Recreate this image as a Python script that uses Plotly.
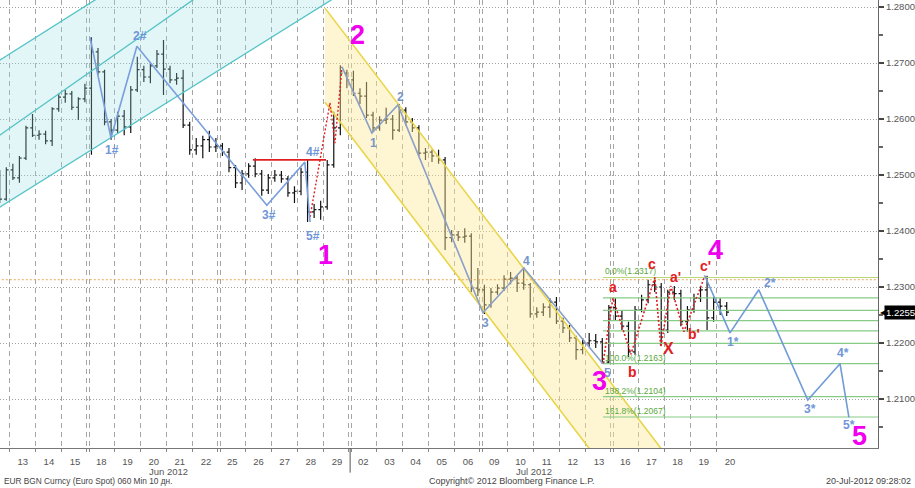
import plotly.graph_objects as go

# ---------------- data ----------------
day_labels = ["12", "13", "14", "15", "18", "19", "20", "21", "22", "25", "26", "27", "28", "29",
              "02", "03", "04", "05", "06", "09", "10", "11", "12", "13", "16", "17", "18", "19", "20"]
friday_idx = [3, 8, 13, 18, 23]
month_labels = ["Jun 2012", "Jul 2012"]
month_label_x = [6.58, 20.5]
month_break = 13.5

bars_per_day = 4          # 6-hour bars
first_slot = 2            # first visible bar = 3rd slot of Jun 12

bar_open = [
    1.2500, 1.2457,
    1.2509, 1.2495, 1.2530, 1.2584,
    1.2571, 1.2573, 1.2561, 1.2618,
    1.2639, 1.2645, 1.2621, 1.2636,
    1.2655, 1.2720, 1.2684, 1.2595,
    1.2580, 1.2605, 1.2586, 1.2652,
    1.2688, 1.2675, 1.2695, 1.2716,
    1.2689, 1.2670, 1.2673, 1.2589,
    1.2545, 1.2552, 1.2563, 1.2550,
    1.2552, 1.2541, 1.2513, 1.2486,
    1.2502, 1.2516, 1.2502, 1.2473,
    1.2495, 1.2500, 1.2493, 1.2468,
    1.2471, 1.2505, 1.2434, 1.2438,
    1.2443, 1.2518, 1.2584, 1.2682,
    1.2670, 1.2646, 1.2641, 1.2607,
    1.2584, 1.2598, 1.2600, 1.2580,
    1.2616, 1.2595, 1.2584, 1.2539,
    1.2541, 1.2534, 1.2527, 1.2388,
    1.2393, 1.2389, 1.2391, 1.2298,
    1.2295, 1.2268, 1.2291, 1.2298,
    1.2314, 1.2316, 1.2307, 1.2304,
    1.2252, 1.2255, 1.2264, 1.2273,
    1.2239, 1.2227, 1.2209, 1.2188,
    1.2200, 1.2204, 1.2202, 1.2166,
    1.2263, 1.2248, 1.2230, 1.2184,
    1.2259, 1.2277, 1.2304, 1.2300,
    1.2223, 1.2291, 1.2288, 1.2238,
    1.2259, 1.2280, 1.2295, 1.2245,
    1.2273, 1.2266,
]
bar_high = [
    1.2509, 1.2514,
    1.2520, 1.2534, 1.2588, 1.2609,
    1.2580, 1.2579, 1.2621, 1.2645,
    1.2652, 1.2650, 1.2639, 1.2663,
    1.2746, 1.2727, 1.2688, 1.2600,
    1.2613, 1.2616, 1.2659, 1.2711,
    1.2695, 1.2700, 1.2723, 1.2741,
    1.2695, 1.2682, 1.2688, 1.2595,
    1.2566, 1.2570, 1.2579, 1.2566,
    1.2557, 1.2548, 1.2518, 1.2509,
    1.2521, 1.2530, 1.2509, 1.2502,
    1.2509, 1.2507, 1.2498, 1.2480,
    1.2513, 1.2527, 1.2448, 1.2454,
    1.2527, 1.2613, 1.2696, 1.2688,
    1.2686, 1.2655, 1.2666, 1.2613,
    1.2605, 1.2620, 1.2607, 1.2627,
    1.2621, 1.2602, 1.2589, 1.2548,
    1.2545, 1.2545, 1.2532, 1.2402,
    1.2400, 1.2405, 1.2396, 1.2334,
    1.2304, 1.2298, 1.2305, 1.2321,
    1.2327, 1.2321, 1.2335, 1.2307,
    1.2264, 1.2271, 1.2280, 1.2282,
    1.2245, 1.2232, 1.2213, 1.2209,
    1.2218, 1.2216, 1.2209, 1.2268,
    1.2280, 1.2259, 1.2238, 1.2266,
    1.2286, 1.2313, 1.2317, 1.2307,
    1.2295, 1.2302, 1.2295, 1.2266,
    1.2288, 1.2302, 1.2320, 1.2282,
    1.2280, 1.2273,
]
bar_low = [
    1.2450, 1.2454,
    1.2491, 1.2486, 1.2527, 1.2568,
    1.2563, 1.2555, 1.2552, 1.2613,
    1.2629, 1.2616, 1.2598, 1.2630,
    1.2536, 1.2679, 1.2589, 1.2563,
    1.2575, 1.2571, 1.2575, 1.2648,
    1.2666, 1.2664, 1.2691, 1.2643,
    1.2664, 1.2661, 1.2584, 1.2536,
    1.2536, 1.2530, 1.2541, 1.2541,
    1.2534, 1.2505, 1.2477, 1.2473,
    1.2495, 1.2496, 1.2463, 1.2466,
    1.2488, 1.2486, 1.2461, 1.2450,
    1.2464, 1.2416, 1.2423, 1.2420,
    1.2438, 1.2513, 1.2571, 1.2655,
    1.2641, 1.2627, 1.2602, 1.2577,
    1.2579, 1.2591, 1.2563, 1.2577,
    1.2588, 1.2577, 1.2534, 1.2527,
    1.2523, 1.2520, 1.2366, 1.2380,
    1.2382, 1.2379, 1.2291, 1.2284,
    1.2252, 1.2263, 1.2286, 1.2293,
    1.2305, 1.2291, 1.2295, 1.2245,
    1.2245, 1.2248, 1.2245, 1.2234,
    1.2218, 1.2202, 1.2170, 1.2180,
    1.2193, 1.2191, 1.2163, 1.2163,
    1.2241, 1.2223, 1.2175, 1.2179,
    1.2255, 1.2271, 1.2291, 1.2196,
    1.2218, 1.2277, 1.2230, 1.2220,
    1.2254, 1.2273, 1.2223, 1.2238,
    1.2250, 1.2248,
]
bar_close = [
    1.2457, 1.2509,
    1.2495, 1.2530, 1.2584, 1.2571,
    1.2573, 1.2561, 1.2618, 1.2639,
    1.2645, 1.2621, 1.2636, 1.2655,
    1.2720, 1.2684, 1.2595, 1.2580,
    1.2605, 1.2586, 1.2652, 1.2688,
    1.2675, 1.2695, 1.2716, 1.2689,
    1.2670, 1.2673, 1.2589, 1.2545,
    1.2552, 1.2563, 1.2550, 1.2552,
    1.2541, 1.2513, 1.2486, 1.2502,
    1.2516, 1.2502, 1.2473, 1.2495,
    1.2500, 1.2493, 1.2468, 1.2471,
    1.2505, 1.2434, 1.2438, 1.2443,
    1.2518, 1.2584, 1.2682, 1.2670,
    1.2646, 1.2641, 1.2607, 1.2584,
    1.2598, 1.2600, 1.2580, 1.2616,
    1.2595, 1.2584, 1.2539, 1.2541,
    1.2534, 1.2527, 1.2388, 1.2393,
    1.2389, 1.2391, 1.2298, 1.2295,
    1.2268, 1.2291, 1.2298, 1.2314,
    1.2316, 1.2307, 1.2304, 1.2252,
    1.2255, 1.2264, 1.2273, 1.2239,
    1.2227, 1.2209, 1.2188, 1.2200,
    1.2204, 1.2202, 1.2166, 1.2263,
    1.2248, 1.2230, 1.2184, 1.2259,
    1.2277, 1.2304, 1.2300, 1.2223,
    1.2291, 1.2288, 1.2238, 1.2259,
    1.2280, 1.2295, 1.2245, 1.2273,
    1.2266, 1.2255,
]

price_ticks = [1.21, 1.22, 1.23, 1.24, 1.25, 1.26, 1.27, 1.28]
last_price = 1.2255
ref_line_price = 1.2313

# channels (x in trading-day units, y in price)
cyan_top_x, cyan_top_y = [0, 4], [1.27014, 1.28196]
cyan_mid_x, cyan_mid_y = [0, 8], [1.2567, 1.2829]
cyan_bot_x, cyan_bot_y = [0, 13], [1.2439, 1.2819]
yellow_up_x, yellow_up_y = [12.54, 27.19], [1.2798, 1.1900]
yellow_lo_x, yellow_lo_y = [12.54, 24.45], [1.2630, 1.1900]

# wave counts
sub_wave_x = [3.57, 4.37, 5.36, 10.32, 11.77, 11.97]
sub_wave_y = [1.2746, 1.2566, 1.2730, 1.2446, 1.2523, 1.2416]
sub_wave_lab = ["", "1#", "2#", "3#", "4#", "5#"]
sub_wave_shift = [(0, 0), (1, -12), (3, 10), (2, -10), (8, 10), (3, -14)]

main_wave_x = [13.19, 14.33, 15.32, 18.57, 20.13, 23.15]
main_wave_y = [1.2693, 1.2575, 1.2625, 1.2254, 1.2334, 1.2163]
main_wave_lab = ["", "1", "2", "3", "4", "5"]
main_wave_shift = [(0, 0), (2, -10), (3, 8), (3, -10), (3, 7), (5, -9)]

proj_x = [27.04, 28.0, 29.1, 30.97, 32.2, 32.54]
proj_y = [1.2320, 1.2218, 1.2295, 1.2098, 1.2163, 1.2067]
proj_lab = ["", "1*", "2*", "3*", "4*", "5*"]
proj_shift = [(0, 0), (3, -9), (11, 7), (2, -9), (3, 11), (0, -8)]

abc_x = [23.15, 23.53, 24.22, 25.13, 25.36, 25.74, 26.24, 27.04]
abc_y = [1.2163, 1.2280, 1.2180, 1.2317, 1.2193, 1.2302, 1.2220, 1.2320]
abc_lab = ["", "a", "b", "c", "X", "a'", "b'", "c'"]
abc_shift = [(0, 0), (0, 11), (2, -18), (-3, 13), (8, -2), (5, 9), (10, -2), (1, 10)]

impulse_x = [11.97, 12.73, 12.92, 13.19]
impulse_y = [1.2425, 1.2629, 1.2557, 1.2693]

break_x, break_y = [9.79, 12.58], [1.2527, 1.2527]

big_labels = ["1", "2", "3", "4", "5"]
big_anchor = [(sub_wave_x[5], sub_wave_y[5]), (main_wave_x[0], main_wave_y[0]),
              (main_wave_x[5], main_wave_y[5]), (abc_x[7], abc_y[7]), (proj_x[5], proj_y[5])]
big_shift = [(15, -33), (15, 32), (-3, -17), (11, 26), (11, -19)]

fib_high, fib_low = 1.2317, 1.2163
fib_ratios = [0.0, 0.236, 0.382, 0.5, 0.618, 0.764, 1.0, 1.382, 1.618]
fib_text = ["0.0%(1.2317)", "", "", "", "", "", "100.0%(1.2163)", "138.2%(1.2104)", "161.8%(1.2067)"]
fib_start_x = main_wave_x[5]

# ---------------- figure ----------------
X_MIN, X_MAX = 0.134, 33.65
Y_MIN, Y_MAX = 1.20125, 1.28125
FONT = "Liberation Sans"

fig = go.Figure()

# cyan rising channel
fig.add_trace(go.Scatter(x=cyan_top_x + cyan_bot_x[::-1], y=cyan_top_y + cyan_bot_y[::-1],
                         fill="toself", fillcolor="rgba(150,218,228,0.28)", mode="lines",
                         line=dict(width=0), hoverinfo="skip"))
for xs, ys in [(cyan_top_x, cyan_top_y), (cyan_mid_x, cyan_mid_y), (cyan_bot_x, cyan_bot_y)]:
    fig.add_trace(go.Scatter(x=xs, y=ys, mode="lines", line=dict(color="#52c3c6", width=1.3),
                             hoverinfo="skip"))

# yellow falling channel
fig.add_trace(go.Scatter(x=yellow_up_x + yellow_lo_x[::-1], y=yellow_up_y + yellow_lo_y[::-1],
                         fill="toself", fillcolor="rgba(253,232,150,0.42)", mode="lines",
                         line=dict(width=0), hoverinfo="skip"))
for xs, ys in [(yellow_up_x, yellow_up_y), (yellow_lo_x, yellow_lo_y)]:
    fig.add_trace(go.Scatter(x=xs, y=ys, mode="lines", line=dict(color="#e9d548", width=1.6),
                             hoverinfo="skip"))

# reference dotted line
fig.add_trace(go.Scatter(x=[X_MIN - 1, X_MAX + 1], y=[ref_line_price] * 2, mode="lines",
                         line=dict(color="#e6a95c", width=1, dash="2px,2px"), hoverinfo="skip"))

# fibonacci levels
for r, t in zip(fib_ratios, fib_text):
    lvl = fib_high - r * (fib_high - fib_low)
    col = "#bcd77a" if r == 0 else "#86cc86"
    fig.add_trace(go.Scatter(x=[fib_start_x, X_MAX + 1], y=[lvl, lvl], mode="lines",
                             line=dict(color=col, width=1.2), hoverinfo="skip"))
    if t:
        fig.add_annotation(x=fib_start_x, y=lvl, text=t, showarrow=False, xanchor="left",
                           yanchor="bottom", xshift=0, yshift=-1,
                           font=dict(family=FONT, size=8.5, color="#5aa83c"))

# price bars
bar_x = [(first_slot + i + 0.5) / bars_per_day - 0.5 for i in range(len(bar_open))]
fig.add_trace(go.Ohlc(x=bar_x, open=bar_open, high=bar_high, low=bar_low, close=bar_close,
                      increasing=dict(line=dict(color="#111111", width=1.2)),
                      decreasing=dict(line=dict(color="#111111", width=1.2)),
                      tickwidth=0.35, hoverinfo="skip"))

# red annotations
fig.add_trace(go.Scatter(x=break_x, y=break_y, mode="lines",
                         line=dict(color="#e02020", width=1.6), hoverinfo="skip"))
fig.add_trace(go.Scatter(x=impulse_x, y=impulse_y, mode="lines",
                         line=dict(color="#e02020", width=1.4, dash="2px,2px"), hoverinfo="skip"))
fig.add_trace(go.Scatter(x=abc_x, y=abc_y, mode="lines",
                         line=dict(color="#e02020", width=1.6, dash="2px,2px"), hoverinfo="skip"))

# blue wave lines
fig.add_trace(go.Scatter(x=sub_wave_x, y=sub_wave_y, mode="lines",
                         line=dict(color="#7a9fdb", width=1.6), hoverinfo="skip"))
fig.add_trace(go.Scatter(x=main_wave_x, y=main_wave_y, mode="lines",
                         line=dict(color="#8aa0c6", width=1.6), hoverinfo="skip"))
fig.add_trace(go.Scatter(x=proj_x, y=proj_y, mode="lines",
                         line=dict(color="#6f9bd8", width=1.6), hoverinfo="skip"))


def label(x, y, text, color, size, shift, bold=True):
    fig.add_annotation(x=x, y=y, text=f"<b>{text}</b>" if bold else text, showarrow=False,
                       xanchor="center", yanchor="middle", xshift=shift[0], yshift=shift[1],
                       font=dict(family=FONT, size=size, color=color))


for xs, ys, labs, shifts, col in [
    (sub_wave_x, sub_wave_y, sub_wave_lab, sub_wave_shift, "#6f96d8"),
    (main_wave_x, main_wave_y, main_wave_lab, main_wave_shift, "#7895c8"),
    (proj_x, proj_y, proj_lab, proj_shift, "#6f96d8"),
]:
    for x, y, t, s in zip(xs, ys, labs, shifts):
        if t:
            label(x, y, t, col, 12, s)

for x, y, t, s in zip(abc_x, abc_y, abc_lab, abc_shift):
    if t:
        label(x, y, t, "#e3201e", 16 if t == "X" else 14, s)

for (x, y), t, s in zip(big_anchor, big_labels, big_shift):
    label(x, y, t, "#f000ee", 27, s)

# last price marker
fig.add_annotation(xref="paper", x=1, y=last_price, text="1.2255", showarrow=False,
                   xanchor="left", yanchor="middle", xshift=6, bgcolor="#000000", borderpad=1,
                   font=dict(family=FONT, size=9.5, color="#ffffff"))
fig.add_annotation(xref="paper", x=1, y=last_price, text="◀", showarrow=False,
                   xanchor="left", yanchor="middle", xshift=0,
                   font=dict(family="DejaVu Sans", size=8, color="#000000"))

# month labels / separator / footer
for t, x in zip(month_labels, month_label_x):
    fig.add_annotation(x=x, yref="paper", y=0, text=t, showarrow=False, yanchor="middle",
                       yshift=-23, font=dict(family=FONT, size=9.5, color="#555"))
fig.add_shape(type="line", xref="x", yref="paper", x0=month_break, x1=month_break,
              y0=0, y1=-0.055, line=dict(color="#555", width=1))

footer = [("EUR BGN Curncy (Euro Spot) 060 Min 10 дн.", 0.002, "left", 8.3),
          ("Copyright© 2012 Bloomberg Finance L.P.", 0.583, "center", 9),
          ("20-Jul-2012 09:28:02", 1.04, "right", 9)]
for t, x, anc, sz in footer:
    fig.add_annotation(xref="paper", yref="paper", x=x, y=0, text=t, showarrow=False,
                       xanchor=anc, yanchor="middle", yshift=-33,
                       font=dict(family=FONT, size=sz, color="#444"))

# grid positions at day boundaries (double lines over weekends)
grid_x = []
for i in range(len(day_labels) - 1):
    b = i + 0.5
    if i in friday_idx:
        grid_x += [b - 0.05, b + 0.05]
    else:
        grid_x.append(b)

fig.update_layout(
    width=915, height=488, margin=dict(l=0, r=37, t=0, b=40),
    paper_bgcolor="white", plot_bgcolor="white", showlegend=False,
    font=dict(family=FONT, size=9.5, color="#555"),
)
fig.update_xaxes(
    range=[X_MIN, X_MAX], tickmode="array", tickvals=list(range(len(day_labels))),
    ticktext=day_labels, showgrid=False, zeroline=False, ticks="", showline=True,
    linecolor="#777", rangeslider=dict(visible=False), ticklabelstandoff=5,
    tickfont=dict(family=FONT, size=9.5, color="#555"),
    minor=dict(tickmode="array", tickvals=grid_x, showgrid=True, gridcolor="#a5a5a5",
               griddash="5px,4px", gridwidth=1, ticks="outside", ticklen=3, tickcolor="#888"),
)
fig.update_yaxes(
    side="right", range=[Y_MIN, Y_MAX], tickmode="array", tickvals=price_ticks,
    ticktext=[f"{v:.4f}" for v in price_ticks], showgrid=True, gridcolor="#a0a0a0",
    griddash="1px,2px", zeroline=False, ticks="outside", ticklen=5, tickwidth=1.5,
    tickcolor="#444", showline=True, linecolor="#666",
    tickfont=dict(family=FONT, size=9.5, color="#555"),
    minor=dict(tick0=1.205, dtick=0.01, ticks="outside", ticklen=4, tickcolor="#666",
               showgrid=False),
)

fig.write_html("out.html", config={"displayModeBar": False},
               post_script="document.body.style.margin='0';document.body.style.overflow='hidden';")
